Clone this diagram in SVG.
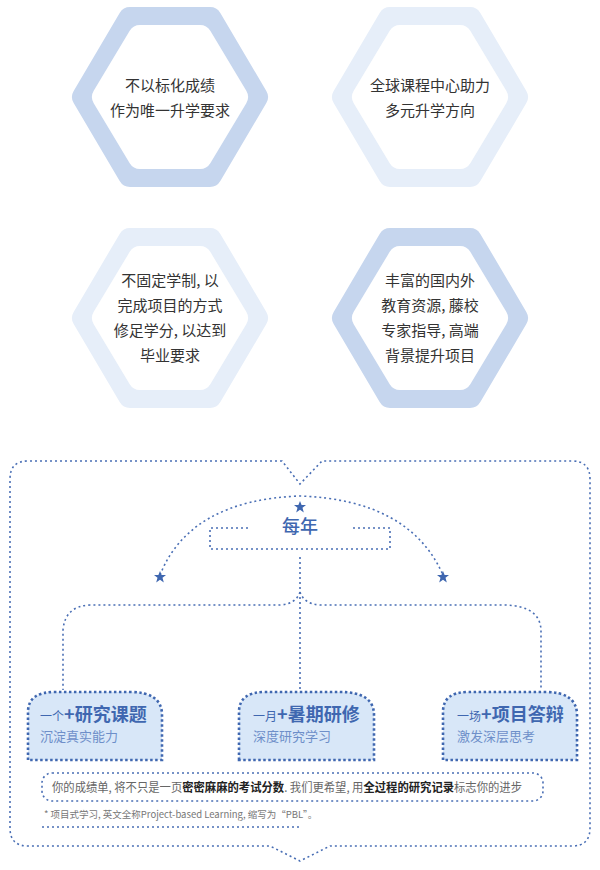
<svg xmlns="http://www.w3.org/2000/svg" width="600" height="870" viewBox="0 0 600 870">
<defs>
<style>
.t{font-family:"Noto Sans CJK SC","Noto Sans",sans-serif;}
.hx{font-size:15px;fill:#333;text-anchor:middle;}
.dot{fill:none;stroke:#4a6fb5;stroke-width:1.6;stroke-dasharray:2 3;}
.box{fill:#d8e7f8;stroke:#3f67b0;stroke-width:2.6;stroke-dasharray:2.5 2.5;}
.st{fill:#3f67b0;}
.sub{font-size:13px;fill:#6e8fc9;}
</style>
<polygon id="ho" points="-86,0 -40,-78 40,-78 86,0 40,78 -40,78" stroke-width="24" stroke-linejoin="round"/>
<polygon id="hi" points="-66,0 -30,-60 30,-60 66,0 30,60 -30,60" fill="#fff" stroke="#fff" stroke-width="24" stroke-linejoin="round"/>
<polygon id="star" points="0,-6 1.6,-2 6,-2 2.5,0.8 3.8,5.5 0,2.7 -3.8,5.5 -2.5,0.8 -6,-2 -1.6,-2"/>
</defs>
<rect width="600" height="870" fill="#fff"/>
<g id="hex1" transform="translate(170,97)"><use href="#ho" fill="#c6d6ee" stroke="#c6d6ee"/><use href="#hi"/>
<text class="t hx" y="-6">不以标化成绩</text><text class="t hx" y="19">作为唯一升学要求</text></g>
<g id="hex2" transform="translate(430,97)"><use href="#ho" fill="#e6eef9" stroke="#e6eef9"/><use href="#hi"/>
<text class="t hx" y="-6">全球课程中心助力</text><text class="t hx" y="19">多元升学方向</text></g>
<g id="hex3" transform="translate(170,318)"><use href="#ho" fill="#e6eef9" stroke="#e6eef9"/><use href="#hi"/>
<text class="t hx" y="-32">不固定学制, 以</text><text class="t hx" y="-7">完成项目的方式</text><text class="t hx" y="18">修足学分, 以达到</text><text class="t hx" y="43">毕业要求</text></g>
<g id="hex4" transform="translate(430,318)"><use href="#ho" fill="#c6d6ee" stroke="#c6d6ee"/><use href="#hi"/>
<text class="t hx" y="-32">丰富的国内外</text><text class="t hx" y="-7">教育资源, 藤校</text><text class="t hx" y="18">专家指导, 高端</text><text class="t hx" y="43">背景提升项目</text></g>
<g id="connectors">
<path class="dot" d="M282,461 H28 Q10,461 10,479 V828 Q10,846 28,846 H270 L300,861 L330,846 H572 Q590,846 590,828 V479 Q590,461 572,461 H322 L300,484 Z"/>
<path class="dot" d="M160,575 Q190,500 300,496 Q410,500 443,575"/>
<path class="dot" d="M248,528 H210 V549 H390 V528 H352"/>
<path class="dot" d="M300,557 V693"/>
<path class="dot" d="M300,592 Q296,604 280,605 H90 Q65,606 63,630 V690"/>
<path class="dot" d="M300,592 Q304,604 320,605 H505 Q540,606 541,630 V690"/>
</g>
<g id="year"><use href="#star" class="st" x="300" y="507"/><use href="#star" class="st" x="160" y="577"/><use href="#star" class="st" x="443" y="577"/>
<text class="t" x="300" y="533" font-size="18" fill="#3f67b0" text-anchor="middle" font-weight="500">每年</text></g>
<g id="box1"><path class="box" d="M28,760 V712 Q28,692 55,692 H130 Q162,692 162,715 V760 Z"/>
<text class="t" x="40" y="721" fill="#3f67b0"><tspan font-size="12">一个</tspan><tspan font-size="18" font-weight="bold">+研究课题</tspan></text>
<text class="t sub" x="40" y="741">沉淀真实能力</text></g>
<g id="box2"><path class="box" d="M239,760 V712 Q239,692 265,692 H340 Q374,692 374,715 V760 Z"/>
<text class="t" x="253" y="721" fill="#3f67b0"><tspan font-size="12">一月</tspan><tspan font-size="18" font-weight="bold">+暑期研修</tspan></text>
<text class="t sub" x="253" y="741">深度研究学习</text></g>
<g id="box3"><path class="box" d="M443,760 V712 Q443,692 468,692 H545 Q577,692 577,715 V760 Z"/>
<text class="t" x="457" y="721" fill="#3f67b0"><tspan font-size="12">一场</tspan><tspan font-size="18" font-weight="bold">+项目答辩</tspan></text>
<text class="t sub" x="457" y="741">激发深层思考</text></g>
<g id="note"><rect class="dot" x="42" y="773" width="501" height="28" rx="10"/>
<text class="t" x="52" y="792" font-size="12" fill="#666" textLength="470" lengthAdjust="spacingAndGlyphs">你的成绩单, 将不只是一页<tspan font-weight="bold" fill="#222">密密麻麻的考试分数</tspan>. 我们更希望, 用<tspan font-weight="bold" fill="#222">全过程的研究记录</tspan>标志你的进步</text>
<text class="t" x="44" y="818" font-size="9.5" fill="#777">* 项目式学习, 英文全称Project-based Learning, 缩写为“PBL”。</text>
<path class="dot" d="M42,827 H300"/></g>
</svg>
